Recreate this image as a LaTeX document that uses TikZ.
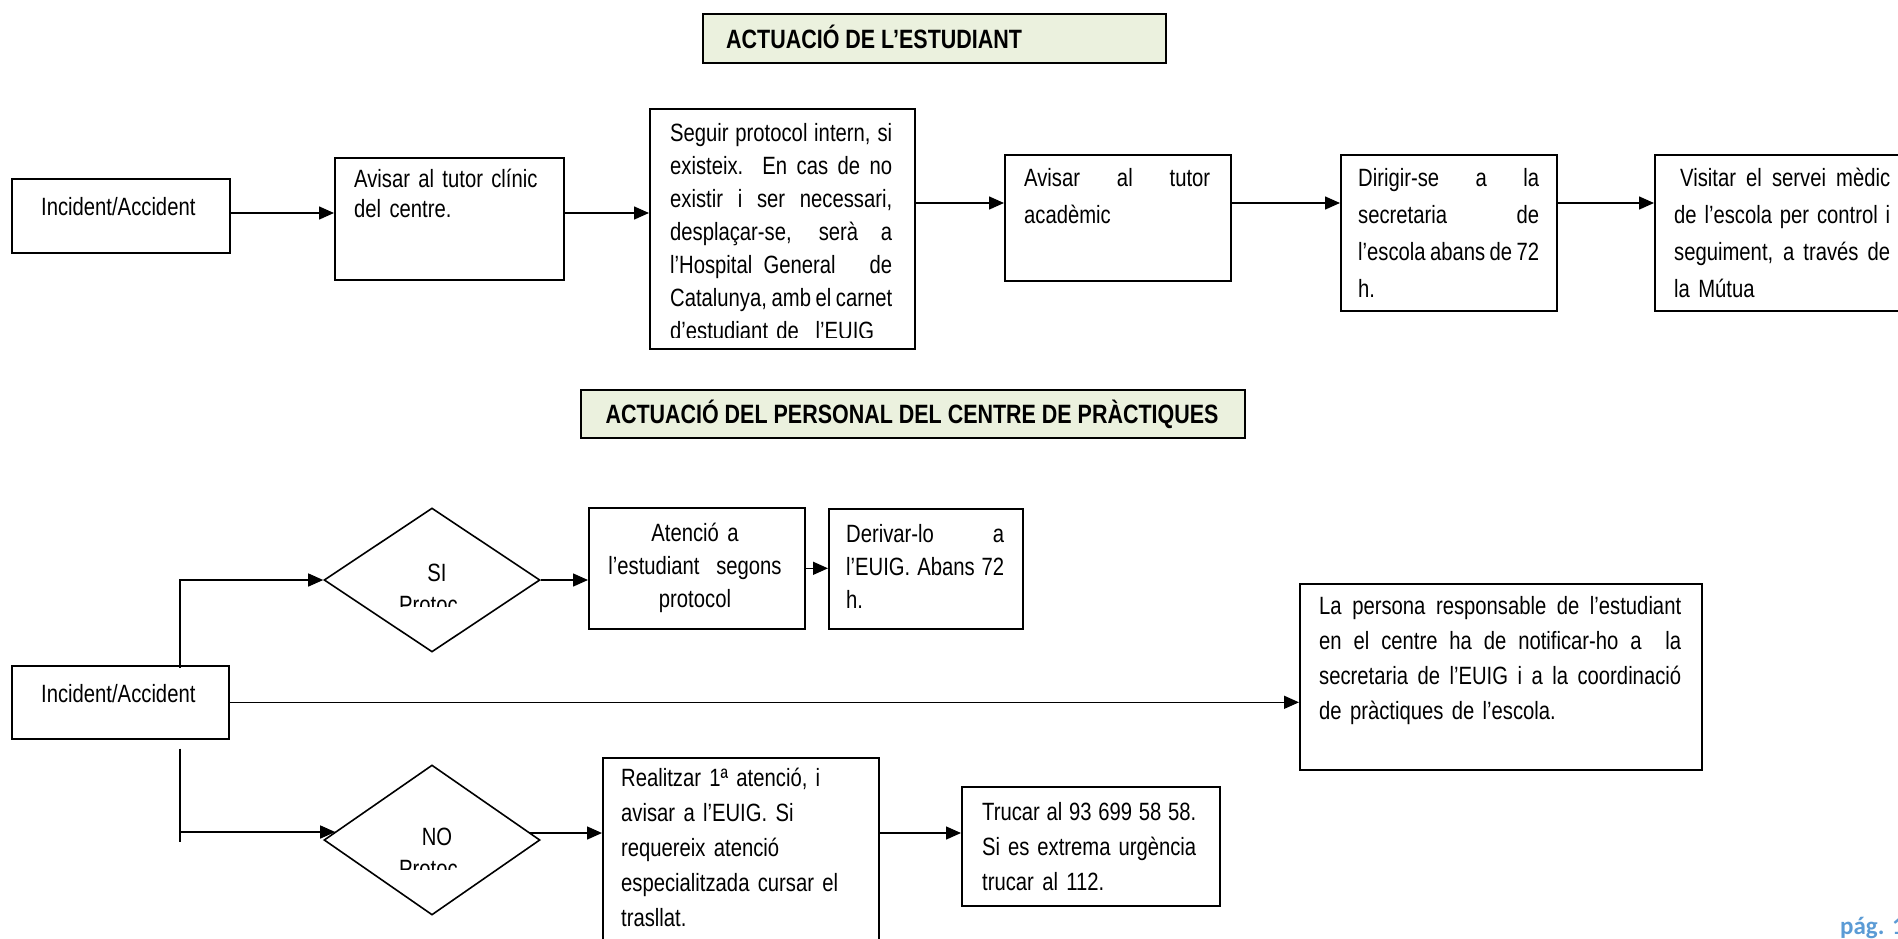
\documentclass[tikz,border=0pt]{standalone}
\usepackage{fontspec}
\setmainfont{Liberation Sans}[FakeStretch=0.81]
\newfontfamily\pagefont{Carlito}
\usetikzlibrary{arrows.meta,shapes.geometric}
\definecolor{titlefill}{HTML}{EBF1DE}
\definecolor{pageblue}{HTML}{5B9BD5}
\newcommand\jl[2]{{\spaceskip=0pt\xspaceskip=0pt\makebox[#1pt][s]{#2}}}
\tikzset{
  bx/.style={draw, line width=1.6pt, rectangle, inner sep=0pt, anchor=north west},
  ttl/.style={bx, fill=titlefill},
  dm/.style={draw, line width=1.6pt, diamond, inner sep=0pt},
  tx/.style={inner sep=0pt, anchor=base west, align=left},
  ttx/.style={inner sep=0pt, font=\bfseries\fontsize{26.5}{30}\selectfont},
  arr/.style={line width=1.5pt, -{Triangle[length=15pt,width=13pt]}},
  ln/.style={line width=1.5pt},
}
\begin{document}
\begin{tikzpicture}[x=1pt,y=-1pt,font=\fontsize{25}{33}\selectfont]
\useasboundingbox (0,0) rectangle (1898,938);

% ---------- titles
\node[ttl, minimum width=463pt, minimum height=49pt] (t1) at (702,13) {};
\node[ttx, anchor=base west] (t1t) at (726,48) {ACTUACIÓ DE L’ESTUDIANT};
\node[ttl, minimum width=664pt, minimum height=48pt] (t2) at (580,389) {};
\node[ttx, anchor=base] (t2t) at (912,423) {ACTUACIÓ DEL PERSONAL DEL CENTRE DE PRÀCTIQUES};

% ---------- top row
\node[bx, minimum width=218pt, minimum height=74pt] (a1) at (11,178) {};
\node[tx] (a1t) at (41,215) {Incident/Accident};

\node[bx, minimum width=229pt, minimum height=122pt] (a2) at (334,157) {};
\node[tx, text width=200pt, font=\fontsize{25}{30}\selectfont] (a2t) at (354,187) {Avisar al tutor clínic\\del centre.};

\node[bx, minimum width=265pt, minimum height=240pt] (a3) at (649,108) {};
\begin{scope}
\clip (649,108) rectangle (914,337);
\node[tx, text width=226pt] (a3t) at (670,141) {\jl{222}{Seguir protocol intern, si}\\\jl{222}{existeix. En cas de no}\\\jl{222}{existir i ser necessari,}\\\jl{222}{desplaçar-se, serà a}\\\jl{222}{l’Hospital General\ \ \ de}\\\jl{222}{Catalunya, amb el carnet}\\d’estudiant de\ \ l’EUIG};
\end{scope}

\node[bx, minimum width=226pt, minimum height=126pt] (a4) at (1004,154) {};
\node[tx, text width=190pt, font=\fontsize{25}{37}\selectfont] (a4t) at (1024,186) {\jl{186}{Avisar al tutor}\\acadèmic};

\node[bx, minimum width=216pt, minimum height=156pt] (a5) at (1340,154) {};
\node[tx, text width=184pt, font=\fontsize{25}{37}\selectfont] (a5t) at (1358,186) {\jl{181}{Dirigir-se a la}\\\jl{181}{secretaria de}\\\jl{181}{l’escola abans de 72}\\h.};

\node[bx, minimum width=250pt, minimum height=156pt] (a6) at (1654,154) {};
\node[tx, text width=226pt, font=\fontsize{25}{37}\selectfont] (a6t) at (1674,186) {\jl{216}{\hspace*{6pt}Visitar el servei mèdic}\\\jl{216}{de l’escola per control i}\\\jl{216}{seguiment, a través de}\\la Mútua};

\coordinate (yup) at (0,213);
\coordinate (yhi) at (0,203);
\draw[arr] (a1.east |- yup) -- (a2.west |- yup);
\draw[arr] (a2.east |- yup) -- (a3.west |- yup);
\draw[arr] (a3.east |- yhi) -- (a4.west |- yhi);
\draw[arr] (a4.east |- yhi) -- (a5.west |- yhi);
\draw[arr] (a5.east |- yhi) -- (a6.west |- yhi);

% ---------- bottom section
\node[bx, minimum width=217pt, minimum height=73pt] (b1) at (11,665) {};
\node[tx] (b1t) at (41,702) {Incident/Accident};

\node[dm, minimum width=216pt, minimum height=144pt] (si) at (432,580) {};
\node[dm, minimum width=216pt, minimum height=150pt] (no) at (432,840) {};
\begin{scope}
\clip (380,550) rectangle (470,606);
\node[inner sep=0pt, anchor=base] (sit) at (437,581) {SI};
\node[tx] (sip) at (399,613) {Protoc};
\end{scope}
\begin{scope}
\clip (380,810) rectangle (470,869);
\node[inner sep=0pt, anchor=base] (not) at (437,845) {NO};
\node[tx] (nop) at (399,877) {Protoc};
\end{scope}

\node[bx, minimum width=216pt, minimum height=121pt] (b2) at (588,507) {};
\node[inner sep=0pt, anchor=base, align=center, text width=210pt] (b2t) at (695,541) {Atenció a\\l’estudiant\ \ segons\\protocol};

\node[bx, minimum width=194pt, minimum height=120pt] (b3) at (828,508) {};
\node[tx, text width=165pt] (b3t) at (846,542) {\jl{158}{Derivar-lo a}\\\jl{158}{l’EUIG. Abans 72}\\h.};

\node[bx, minimum width=402pt, minimum height=186pt] (b4) at (1299,583) {};
\node[tx, text width=370pt, font=\fontsize{25}{35}\selectfont] (b4t) at (1319,614) {\jl{362}{La persona responsable de l’estudiant}\\\jl{362}{en el centre ha de notificar-ho a\ \ la}\\\jl{362}{secretaria de l’EUIG i a la coordinació}\\de pràctiques de l’escola.};

\node[bx, minimum width=276pt, minimum height=190pt] (b5) at (602,757) {};
\node[tx, text width=250pt, font=\fontsize{25}{35}\selectfont] (b5t) at (621,786) {Realitzar 1ª atenció, i\\avisar a l’EUIG. Si\\requereix atenció\\especialitzada cursar el\\trasllat.};

\node[bx, minimum width=258pt, minimum height=119pt] (b6) at (961,786) {};
\node[tx, text width=220pt, font=\fontsize{25}{35}\selectfont] (b6t) at (982,820) {\jl{214}{Trucar al 93 699 58 58.}\\\jl{214}{Si es extrema urgència}\\trucar al 112.};

% connectors bottom
\coordinate (jtop) at ([xshift=169pt,yshift=-3pt]b1.north west);
\coordinate (jbot) at ([xshift=169pt,yshift=-9pt]b1.south west);
\coordinate (jend) at (180,842);
\coordinate (jno) at (180,832);
\coordinate (yno) at (0,833);
\draw[arr] (jtop) |- (si.west);
\draw[ln] (jbot) -- (jend);
\draw[arr] (jno) -- ([xshift=12pt,yshift=8pt]no.west);
\draw[arr] (b1.east) -- (b1.east -| b4.west);
\draw[arr] (si.east) -- (si.east -| b2.west);
\draw[arr] (b2.east) -- (b2.east -| b3.west);
\draw[arr] ([xshift=-11pt]no.east |- yno) -- (b5.west |- yno);
\draw[arr] (b5.east |- yno) -- (b6.west |- yno);

% page number
\node[inner sep=0pt, anchor=base west, text=pageblue, font=\pagefont\bfseries\fontsize{25}{30}\selectfont] (pag) at (1840,934) {pág. 1};
\end{tikzpicture}
\end{document}
